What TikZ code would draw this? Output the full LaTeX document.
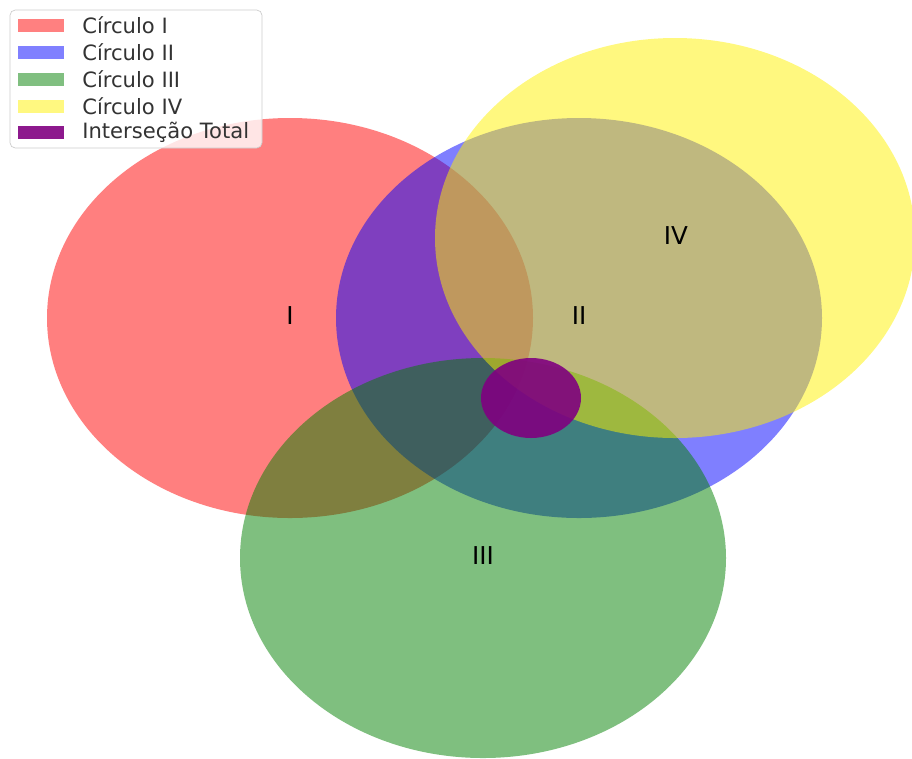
\documentclass[tikz,border=0pt]{standalone}
\usepackage{fontspec}
\setmainfont{DejaVu Sans}
\definecolor{mplgreen}{RGB}{0,128,0}
\definecolor{mplpurple}{RGB}{128,0,128}

\begin{document}
\begin{tikzpicture}[x=0.02cm,y=-0.02cm,
		area/.style={fill opacity=0.5},
		lbl/.style={font=\fontsize{14}{16}\selectfont},
		patch/.style={minimum width=46*0.02cm,minimum height=13*0.02cm,inner sep=0pt},
		entry/.style={anchor=west,inner sep=0pt,font=\fontsize{12}{14}\selectfont,text=black!80}]
		\useasboundingbox (0,0) rectangle (912,758);
		\begin{scope}
		\clip (0,0) rectangle (912,758);
		\fill[red,area] (290,318) ellipse [x radius=243, y radius=200];
		\fill[blue,area] (579,318) ellipse [x radius=243, y radius=200];
		\fill[mplgreen,area] (483,558) ellipse [x radius=243, y radius=200];
		\fill[yellow,area] (675,238) ellipse [x radius=240, y radius=200];
		\fill[mplpurple,fill opacity=0.9] (531,398) ellipse [x radius=50, y radius=40];
		\end{scope}
		\node[lbl] (I) at (290,316) {I};
		\node[lbl] (II) at (579,316) {II};
		\node[lbl] (III) at (483,556) {III};
		\node[lbl] (IV) at (676,236) {IV};
		% legend
		\draw[black!20,fill=white,fill opacity=0.8,rounded corners=3pt] (10,10) rectangle (262,148);
		\node[patch,fill=red!50] (p1) at (41,25) {};
		\node[patch,fill=blue!50] (p2) at (41,52) {};
		\node[patch,fill=mplgreen!50] (p3) at (41,79) {};
		\node[patch,fill=yellow!50] (p4) at (41,106) {};
		\node[patch,fill=mplpurple!90] (p5) at (41,132) {};
		\node[entry] (t1) at (82,25) {Círculo I};
		\node[entry] (t2) at (82,52) {Círculo II};
		\node[entry] (t3) at (82,79) {Círculo III};
		\node[entry] (t4) at (82,106) {Círculo IV};
		\node[entry] (t5) at (82,132) {Interseção Total};
	\end{tikzpicture}
\end{document}
